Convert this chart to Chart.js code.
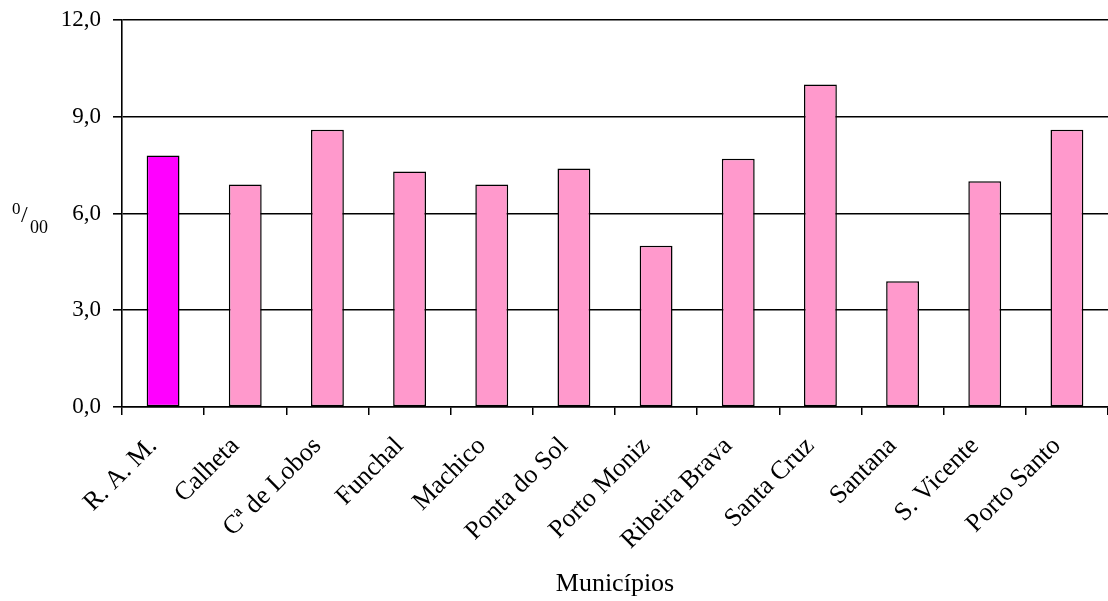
<!DOCTYPE html>
<html lang="pt">
<head>
<meta charset="UTF-8">
<title>Municípios</title>
<script src="https://cdn.jsdelivr.net/npm/chart.js"></script>
<style>
  html, body { margin: 0; padding: 0; background: #fff; }
  #wrap { width: 1108px; height: 601px; position: relative; }
</style>
</head>
<body>
<div id="wrap"><canvas id="chart"></canvas></div>
<script>
// data
const categories = ['R. A. M.', 'Calheta', 'Cª de Lobos', 'Funchal', 'Machico', 'Ponta do Sol',
  'Porto Moniz', 'Ribeira Brava', 'Santa Cruz', 'Santana', 'S. Vicente', 'Porto Santo'];
const values = [7.8, 6.9, 8.6, 7.3, 6.9, 7.4, 5.0, 7.7, 10.0, 3.9, 7.0, 8.6];
const yTicks = [0, 3, 6, 9, 12];
const xTitle = 'Municípios';

const serif = '"Liberation Serif", "Times New Roman", serif';

// first bar (the region) is magenta, municipalities pink
const colors = categories.map((c, i) => i === 0 ? '#FF00FF' : '#FF99CC');

// per-mille axis title and x title drawn by hand
const titles = {
  id: 'titles',
  afterDraw(chart) {
    const ctx = chart.ctx;
    const area = chart.chartArea;
    ctx.save();
    ctx.fillStyle = '#000';
    ctx.textBaseline = 'alphabetic';
    ctx.textAlign = 'left';
    ctx.font = '17px ' + serif;
    ctx.fillText('0', 12, 214);
    ctx.font = '24px ' + serif;
    ctx.fillText('/', 21, 222);
    ctx.font = '18px ' + serif;
    ctx.fillText('00', 30, 233);
    ctx.font = '26px ' + serif;
    ctx.textAlign = 'center';
    ctx.fillText(xTitle, (area.left + area.right) / 2, 591);
    ctx.restore();
  }
};

new Chart(document.getElementById('chart'), {
  type: 'bar',
  data: {
    labels: categories,
    datasets: [{
      data: values,
      backgroundColor: colors,
      borderColor: '#000',
      borderWidth: 1.5,
      borderSkipped: false,
      categoryPercentage: 1,
      barPercentage: 0.4
    }]
  },
  options: {
    responsive: true,
    maintainAspectRatio: false,
    animation: false,
    devicePixelRatio: 1,
    layout: { padding: { top: 4, right: 0, left: 0, bottom: 0 } },
    plugins: {
      legend: { display: false },
      tooltip: { enabled: false }
    },
    scales: {
      x: {
        grid: {
          offset: true,
          drawOnChartArea: false,
          color: '#000',
          lineWidth: 1.5,
          tickLength: 8
        },
        border: { color: '#000', width: 1.5 },
        ticks: {
          color: '#000',
          font: { family: serif, size: 26 },
          minRotation: 45,
          maxRotation: 45,
          autoSkip: false,
          padding: 16,
          labelOffset: -10
        },
        afterFit(scale) { scale.height = 194; }
      },
      y: {
        min: 0,
        max: 12,
        afterBuildTicks(scale) { scale.ticks = yTicks.map(v => ({ value: v })); },
        grid: {
          color: '#000',
          lineWidth: 1.6,
          tickLength: 9
        },
        border: { color: '#000', width: 1.6 },
        ticks: {
          color: '#000',
          font: { family: serif, size: 23, lineHeight: 0.7 },
          padding: 12,
          callback: v => v.toFixed(1).replace('.', ',')
        },
        afterFit(scale) { scale.width = 122; }
      }
    }
  },
  plugins: [titles]
});
</script>
</body>
</html>
